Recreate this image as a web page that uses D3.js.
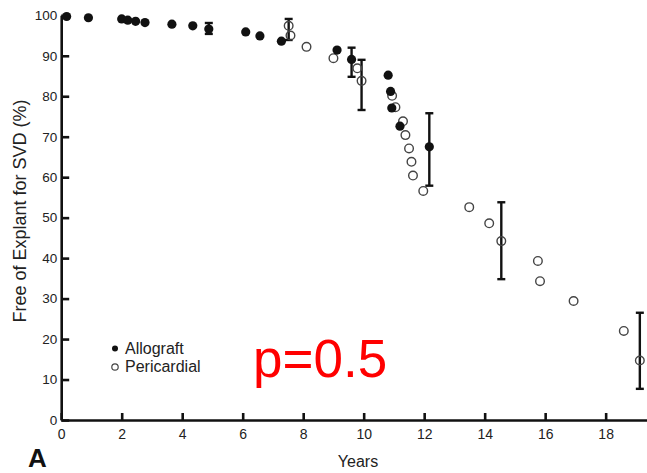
<!DOCTYPE html>
<html>
<head>
<meta charset="utf-8">
<script src="https://cdn.jsdelivr.net/npm/d3@7"></script>
<style>
  body { margin: 0; background: #fff; }
  svg { display: block; font-family: "Liberation Sans", Arial, sans-serif; }
</style>
</head>
<body>
<div id="canvas"></div>
<script>
// years / percent free of explant
const allograftYears = [0.18, 0.9, 2.0, 2.2, 2.46, 2.77, 3.66, 4.35, 4.88, 6.1, 6.57, 7.28, 9.12, 9.6, 10.81, 10.89, 10.93, 11.2, 12.17];
const allograftFree  = [99.7, 99.4, 99.1, 98.8, 98.5, 98.2, 97.8, 97.4, 96.6, 95.9, 94.9, 93.6, 91.4, 89.1, 85.2, 81.2, 77.1, 72.6, 67.5];

const pericardialYears = [7.52, 7.58, 8.11, 9.0, 9.79, 9.93, 10.94, 11.05, 11.3, 11.38, 11.5, 11.58, 11.63, 11.97, 13.49, 14.15, 14.55, 15.76, 15.83, 16.94, 18.6, 19.13];
const pericardialFree  = [97.4, 95.0, 92.2, 89.4, 86.9, 83.8, 80.1, 77.3, 73.8, 70.4, 67.1, 63.8, 60.4, 56.6, 52.6, 48.6, 44.2, 39.3, 34.3, 29.4, 22.0, 14.7];

// error bars: year, low, high
const barYears = [4.88, 9.6, 12.17, 7.52, 9.93, 14.55, 19.13];
const barLow   = [95.4, 84.8, 57.9, 93.9, 76.6, 34.8, 7.7];
const barHigh  = [98.1, 92.0, 75.8, 99.1, 89.0, 53.8, 26.5];

const xTicks = [0, 2, 4, 6, 8, 10, 12, 14, 16, 18];
const yTicks = [0, 10, 20, 30, 40, 50, 60, 70, 80, 90, 100];

const width = 647;
const height = 473;

const svg = d3.select("#canvas")
  .append("svg")
  .attr("width", width)
  .attr("height", height);

const x = d3.scaleLinear().domain([0, 19.4]).range([61.2, 648]);
const y = d3.scaleLinear().domain([0, 100]).range([420, 15.3]);

const allograft = allograftYears.map((d, i) => ({ x: d, y: allograftFree[i] }));
const pericardial = pericardialYears.map((d, i) => ({ x: d, y: pericardialFree[i] }));
const bars = barYears.map((d, i) => ({ x: d, lo: barLow[i], hi: barHigh[i] }));

// axes, ticks pointing inward
const xAxis = svg.append("g")
  .attr("transform", `translate(0,${y(0)})`)
  .call(d3.axisBottom(x).tickValues(xTicks).tickSize(-7).tickSizeOuter(0).tickPadding(9));

const yAxis = svg.append("g")
  .attr("transform", `translate(${x(0)},0)`)
  .call(d3.axisLeft(y).tickValues(yTicks).tickSize(-8).tickSizeOuter(0).tickPadding(4));

[xAxis, yAxis].forEach(g => {
  g.select(".domain").attr("stroke", "#111").attr("stroke-width", 2.6);
  g.selectAll(".tick line").attr("stroke", "#111").attr("stroke-width", 2.6);
  g.selectAll(".tick text")
    .attr("fill", "#222")
    .style("font-family", "'Liberation Sans', Arial, sans-serif");
});
xAxis.selectAll(".tick text").style("font-size", "14px");
yAxis.selectAll(".tick text").style("font-size", "13.5px");

// error bars
const eb = svg.append("g").attr("stroke", "#111").attr("stroke-width", 2.4);
eb.selectAll(".v").data(bars).enter().append("line")
  .attr("x1", d => x(d.x)).attr("x2", d => x(d.x))
  .attr("y1", d => y(d.lo)).attr("y2", d => y(d.hi));
eb.selectAll(".lo").data(bars).enter().append("line")
  .attr("x1", d => x(d.x) - 4).attr("x2", d => x(d.x) + 4)
  .attr("y1", d => y(d.lo)).attr("y2", d => y(d.lo));
eb.selectAll(".hi").data(bars).enter().append("line")
  .attr("x1", d => x(d.x) - 4).attr("x2", d => x(d.x) + 4)
  .attr("y1", d => y(d.hi)).attr("y2", d => y(d.hi));

// points
svg.append("g").selectAll("circle").data(pericardial).enter().append("circle")
  .attr("cx", d => x(d.x))
  .attr("cy", d => y(d.y))
  .attr("r", 4.3)
  .attr("fill", "none")
  .attr("stroke", "#444")
  .attr("stroke-width", 1.4);

svg.append("g").selectAll("circle").data(allograft).enter().append("circle")
  .attr("cx", d => x(d.x))
  .attr("cy", d => y(d.y))
  .attr("r", 4.6)
  .attr("fill", "#111");

// legend
svg.append("circle").attr("cx", 115).attr("cy", 348.5).attr("r", 3).attr("fill", "#111");
svg.append("circle").attr("cx", 115).attr("cy", 367).attr("r", 3.2)
  .attr("fill", "none").attr("stroke", "#444").attr("stroke-width", 1.2);
svg.append("text").attr("x", 125).attr("y", 353.5).attr("font-size", 16).attr("fill", "#222").text("Allograft");
svg.append("text").attr("x", 125).attr("y", 372).attr("font-size", 16).attr("fill", "#222").text("Pericardial");

// titles
svg.append("text")
  .attr("x", 358).attr("y", 467)
  .attr("text-anchor", "middle")
  .attr("font-size", 16)
  .attr("fill", "#222")
  .text("Years");

svg.append("text")
  .attr("transform", "translate(26,211) rotate(-90)")
  .attr("text-anchor", "middle")
  .attr("font-size", 18)
  .attr("fill", "#222")
  .text("Free of Explant for SVD (%)");

svg.append("text")
  .attr("x", 28).attr("y", 467)
  .attr("font-size", 26)
  .attr("font-weight", "bold")
  .attr("fill", "#111")
  .text("A");

svg.append("text")
  .attr("x", 253).attr("y", 377)
  .attr("font-size", 53)
  .attr("fill", "#ff0000")
  .text("p=0.5");
</script>
</body>
</html>
